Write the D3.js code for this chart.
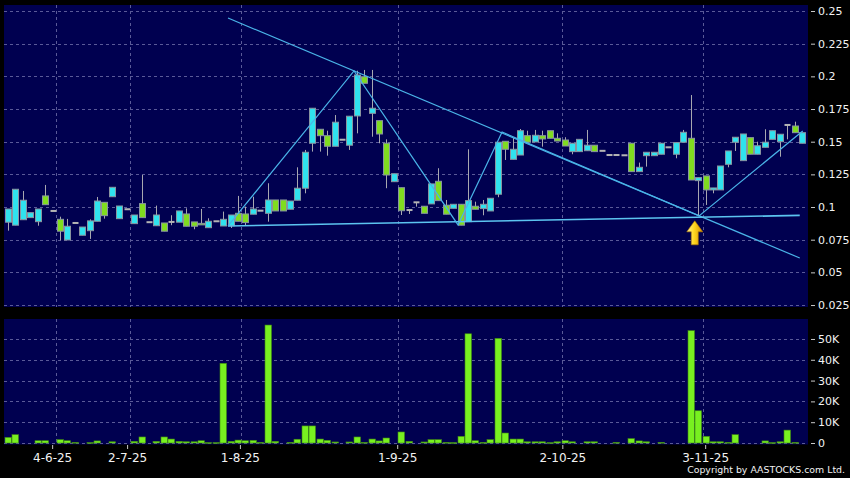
<!DOCTYPE html>
<html><head><meta charset="utf-8">
<script src="https://cdn.jsdelivr.net/npm/d3@7"></script>
<style>html,body{margin:0;padding:0;background:#000;} svg{display:block;}</style>
</head><body><svg id="c" width="850" height="478"></svg>
<script>
// ---- DATA ----
const openP = [0.0884,0.0861,0.0903,0.0919,0.0888,0.1085,0.097,0.0906,0.0748,0.0878,
0.0784,0.0819,0.0891,0.1036,0.1079,0.0911,0.0983,0.0873,0.1026,0.0884,
0.0857,0.0878,0.0886,0.0884,0.0947,0.0886,0.0875,0.0842,0.0891,0.0855,
0.0857,0.0952,0.0947,0.0945,0.0972,0.0952,0.1054,0.1054,0.0983,0.1052,
0.1144,0.1488,0.1595,0.1546,0.1465,0.1515,0.1473,0.1697,0.1997,0.1717,
0.1661,0.1488,0.1194,0.1148,0.0977,0.1036,0.1006,0.1024,0.1197,0.1014,
0.0990,0.1021,0.0888,0.1006,0.0988,0.0970,0.1098,0.1503,0.1365,0.1398,
0.1546,0.1498,0.1546,0.1584,0.1526,0.1513,0.1424,0.1424,0.1431,0.1473,
0.1430,0.1398,0.1398,0.1396,0.1488,0.1271,0.1393,0.1393,0.1404,0.1457,
0.1404,0.1496,0.1526,0.1202,0.1238,0.1131,0.1131,0.1327,0.1496,0.1355,
0.1531,0.1404,0.1457,0.1518,0.1500,0.1628,0.1620,0.1488];
const highP = [0.0985,0.1136,0.1123,0.0957,0.0985,0.1169,0.097,0.0926,0.0909,0.0878,
0.0847,0.0906,0.1077,0.1036,0.1151,0.1008,0.0983,0.0939,0.1245,0.0884,
0.1011,0.0878,0.0937,0.097,0.099,0.0886,0.0985,0.0914,0.0891,0.0965,
0.0939,0.1085,0.1003,0.1079,0.0972,0.1182,0.1054,0.1054,0.1046,0.1304,
0.1437,0.1756,0.1595,0.1584,0.1704,0.1515,0.1695,0.2043,0.2049,0.2049,
0.1661,0.1518,0.1255,0.1148,0.0977,0.1036,0.1006,0.1177,0.1297,0.1054,
0.1021,0.1021,0.1442,0.1041,0.1054,0.1067,0.1496,0.1503,0.1528,0.1597,
0.1584,0.1590,0.1584,0.1584,0.1564,0.1534,0.1488,0.1518,0.1590,0.1473,
0.1430,0.1398,0.1398,0.1396,0.1488,0.1340,0.1419,0.1419,0.1488,0.1457,
0.1493,0.1590,0.1857,0.1225,0.1238,0.1146,0.1314,0.1429,0.1534,0.1559,
0.1531,0.1500,0.1595,0.1584,0.1557,0.1628,0.1653,0.1569];
const lowP = [0.0819,0.0861,0.0903,0.0919,0.0857,0.1018,0.097,0.0746,0.0748,0.0878,
0.0784,0.0756,0.0891,0.0911,0.1079,0.0911,0.0983,0.0873,0.0919,0.0884,
0.0857,0.0815,0.0861,0.0884,0.0853,0.083,0.0868,0.0842,0.0891,0.0855,
0.084,0.0891,0.0857,0.0945,0.0972,0.0888,0.097,0.097,0.0983,0.1052,
0.1105,0.1424,0.1424,0.1393,0.1465,0.1515,0.1437,0.1564,0.1947,0.1538,
0.1488,0.1144,0.1194,0.0939,0.0947,0.1003,0.0952,0.1024,0.1049,0.0945,
0.0990,0.0861,0.0888,0.0983,0.0937,0.0970,0.1075,0.1360,0.1365,0.1398,
0.1496,0.1498,0.1462,0.1526,0.1505,0.1467,0.1404,0.1424,0.1431,0.1424,
0.1430,0.1398,0.1398,0.1396,0.1271,0.1271,0.1309,0.1393,0.1404,0.1457,
0.1373,0.1496,0.1207,0.0930,0.1016,0.1105,0.1131,0.1304,0.1429,0.1355,
0.1404,0.1404,0.1457,0.1518,0.1385,0.1518,0.1569,0.1488];
const closeP = [0.0985,0.1136,0.1052,0.0957,0.0985,0.1018,0.097,0.0815,0.0853,0.0878,
0.0847,0.0894,0.1046,0.0934,0.1151,0.1008,0.0983,0.0939,0.0919,0.0884,
0.0939,0.0815,0.0886,0.097,0.0853,0.0853,0.0868,0.0891,0.0891,0.0906,
0.0939,0.0891,0.0881,0.0985,0.0972,0.1054,0.097,0.097,0.1046,0.1144,
0.1419,0.1756,0.1546,0.1465,0.1649,0.1515,0.1695,0.2010,0.1947,0.1756,
0.1559,0.1245,0.1255,0.0972,0.0977,0.1036,0.0952,0.1177,0.1049,0.0945,
0.1021,0.0861,0.1049,0.0983,0.1021,0.1067,0.1496,0.1442,0.1442,0.1584,
0.1496,0.1549,0.1521,0.1526,0.1505,0.1467,0.1488,0.1518,0.1473,0.1424,
0.1430,0.1398,0.1398,0.1396,0.1271,0.1304,0.1419,0.1419,0.1488,0.1457,
0.1493,0.1572,0.1207,0.1225,0.1131,0.1146,0.1314,0.1429,0.1534,0.1559,
0.1404,0.1469,0.1496,0.1584,0.1557,0.1628,0.1569,0.1569];
// volume in thousands of shares
const volumeK = [2.7,4.0,0,0,1.1,1.1,0,1.6,1.1,0.3,
0,0.2,1.0,0,0.6,0,0,0.8,2.9,0,
0.8,2.9,1.9,0.8,0.6,0.6,1.1,0.2,0.2,38.3,
0.8,1.4,1.1,1.3,0.3,56.7,0.8,0,0.3,1.8,
8.2,8.2,1.9,1.3,0.5,0,0.5,2.9,0.3,1.9,
1.0,2.4,0,5.3,0.8,0,0.5,1.6,1.6,0.3,
0.2,3.2,52.5,1.1,0.3,1.6,50.3,4.8,1.9,1.9,
0.6,0.6,0.6,0.2,0.6,1.1,0.6,0,0.6,0.6,
0,0,0.3,0,2.1,1.0,0.6,0,0.3,0,
0,0,54.0,15.5,3.2,0.6,0.6,0.3,4.0,0,
0,0,1.0,0.2,0.6,6.2,0.3,0];
const priceTicks = [0.025,0.05,0.075,0.1,0.125,0.15,0.175,0.2,0.225,0.25];
const priceTickLabels = ["0.025","0.05","0.075","0.1","0.125","0.15","0.175","0.2","0.225","0.25"];
const volTicks = [0,10,20,30,40,50];
const volTickLabels = ["0","10K","20K","30K","40K","50K"];
const dateLabels = ["4-6-25","2-7-25","1-8-25","1-9-25","2-10-25","3-11-25"];
const dateLabelIndex = [5.95,16.05,31.25,52.45,74.7,93.95];
const gridIndex = [6.5,16.45,31.4,52.55,74.7,93.65];
// trend lines drawn on the chart: [candle index, price]
const lineA = [[29.65,0.2446],[106.7,0.061]];
const lineB = [[29.65,0.0855],[106.7,0.0936]];
const zigzag = [[29.65,0.0855],[46.63,0.2041],[60.65,0.0863],[66.58,0.1574],[93.13,0.0932],[107.1,0.1582]];
const arrowMark = [92.55, 0.0925];
const copyright = "Copyright by AASTOCKS.com Ltd.";

// ---- DRAW ----
const svg = d3.select("#c");
const W = 850, H = 478;
svg.append("rect").attr("width",W).attr("height",H).attr("fill","#000");
const P = {l:4, r:808, top:5, bot:307, vtop:319, vbot:444.5};
const n = closeP.length;
const x = d3.scaleLinear().domain([0, n-1]).range([8, 802]);
const y = d3.scaleLinear().domain([0.0235, 0.2546]).range([P.bot, P.top]);
const yv = d3.scaleLinear().domain([0, 59.6]).range([443, P.vtop]);
const navy = "#000050";
const gridC = "#5a5a98";

svg.append("rect").attr("x",P.l).attr("y",P.top).attr("width",P.r-P.l).attr("height",P.bot-P.top).attr("fill",navy);
svg.append("rect").attr("x",P.l).attr("y",P.vtop).attr("width",P.r-P.l).attr("height",P.vbot-P.vtop).attr("fill",navy);

// grids
const g = svg.append("g").attr("stroke",gridC).attr("stroke-width",1).attr("stroke-dasharray","3,3").attr("fill","none");
priceTicks.forEach(t=>{ const yy=Math.round(y(t))+0.5; g.append("line").attr("x1",P.l).attr("x2",P.r).attr("y1",yy).attr("y2",yy);});
volTicks.forEach(t=>{ const yy=Math.round(yv(t))+0.5; g.append("line").attr("x1",P.l).attr("x2",P.r).attr("y1",yy).attr("y2",yy);});
gridIndex.forEach(i=>{ const xx=Math.round(x(i))+0.5;
  g.append("line").attr("x1",xx).attr("x2",xx).attr("y1",P.top).attr("y2",P.bot);
  g.append("line").attr("x1",xx).attr("x2",xx).attr("y1",P.vtop).attr("y2",P.vbot);
});

// candles
const idx = d3.range(n);
const cg = svg.append("g");
const bw = 6;
cg.selectAll("line.w").data(idx).join("line")
  .attr("x1",i=>Math.round(x(i))+0.5).attr("x2",i=>Math.round(x(i))+0.5)
  .attr("y1",i=>y(highP[i])).attr("y2",i=>y(lowP[i]))
  .attr("stroke","#a8a8b0").attr("stroke-width",1);
cg.selectAll("rect.b").data(idx).join("rect")
  .attr("x",i=>Math.round(x(i))-bw/2+0.5)
  .attr("width",bw)
  .attr("y",i=>{ if (closeP[i]===openP[i]) return y(closeP[i])-1; return y(Math.max(openP[i],closeP[i]));})
  .attr("height",i=>{ if (closeP[i]===openP[i]) return 2; return Math.max(1.5, Math.abs(y(openP[i])-y(closeP[i])));})
  .attr("fill",i=> closeP[i]>openP[i] ? "#30e2ee" : (closeP[i]<openP[i] ? "#80dc20" : "#b4b4b4"))
  .attr("stroke",i=> closeP[i]===openP[i] ? "none" : "#8894a0")
  .attr("stroke-width",1);

// volume bars
svg.append("g").selectAll("rect").data(idx.filter(i=>volumeK[i]>0)).join("rect")
  .attr("x",i=>Math.round(x(i))-3)
  .attr("width",6.5)
  .attr("y",i=>yv(volumeK[i]))
  .attr("height",i=>Math.max(0.8, yv(0)-yv(volumeK[i])))
  .attr("fill","#78f020").attr("stroke","#3f8a12").attr("stroke-width",0.6);

// trend lines
const ln = d3.line().x(d=>x(d[0])).y(d=>y(d[1]));
const tl = svg.append("g").attr("fill","none").attr("stroke","#4ab4e8").attr("stroke-width",1.2);
tl.append("path").attr("d",ln(lineA));
tl.append("path").attr("d",ln(lineB)).attr("stroke","#5cc4f0").attr("stroke-width",1.6);
tl.append("path").attr("d",ln(zigzag));

// arrow
const defs = svg.append("defs");
const gr = defs.append("linearGradient").attr("id","ag").attr("x1","0").attr("x2","1").attr("y1","0").attr("y2","0");
gr.append("stop").attr("offset","0").attr("stop-color","#fff4a0");
gr.append("stop").attr("offset","0.45").attr("stop-color","#ffd820");
gr.append("stop").attr("offset","1").attr("stop-color","#d89000");
const ax = x(arrowMark[0]), ay = y(arrowMark[1]) + 4;
svg.append("path")
  .attr("d", d3.line()([[ax,ay],[ax+8,ay+11],[ax+3.5,ay+11],[ax+3.5,ay+24],[ax-3.5,ay+24],[ax-3.5,ay+11],[ax-8,ay+11]]) + "Z")
  .attr("fill","url(#ag)").attr("stroke","#b07800").attr("stroke-width",0.6);

// axes
const font = "DejaVu Sans, Verdana, sans-serif";
function styleAxis(sel, fs){
  sel.select(".domain").remove();
  sel.selectAll(".tick line").attr("stroke","#c8c8c8");
  sel.selectAll(".tick text").attr("fill","#f2f2f2").style("font-family",font).style("font-size",fs+"px");
}
const ya = svg.append("g").attr("transform",`translate(811,0)`)
  .call(d3.axisRight(y).tickValues(priceTicks).tickFormat((d,i)=>priceTickLabels[i]).tickSize(4).tickPadding(3));
styleAxis(ya, 11);
const va = svg.append("g").attr("transform",`translate(811,0)`)
  .call(d3.axisRight(yv).tickValues(volTicks).tickFormat((d,i)=>volTickLabels[i]).tickSize(4).tickPadding(3));
styleAxis(va, 11);
const xa = svg.append("g").attr("transform",`translate(0,445)`)
  .call(d3.axisBottom(x).tickValues(dateLabelIndex).tickFormat((d,i)=>dateLabels[i]).tickSize(4).tickPadding(4));
styleAxis(xa, 12);

svg.append("text").attr("x",845).attr("y",473).attr("text-anchor","end")
  .attr("fill","#f2f2f2").style("font-family",font).style("font-size","9.4px")
  .text(copyright);
</script></body></html>
